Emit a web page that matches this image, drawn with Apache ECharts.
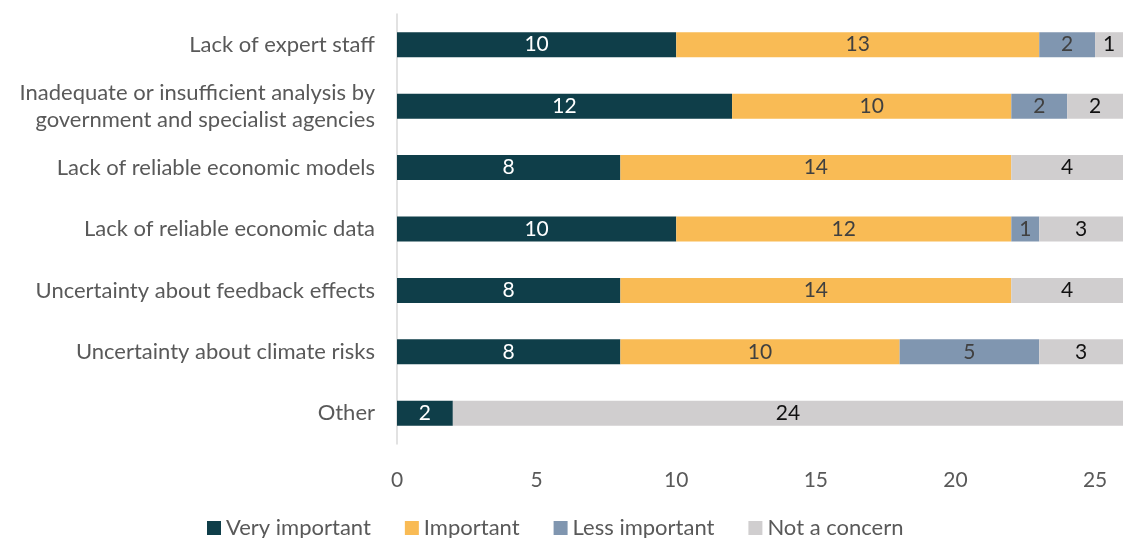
<!DOCTYPE html>
<html><head><meta charset="utf-8">
<script src="https://cdn.jsdelivr.net/npm/echarts@6/dist/echarts.min.js"></script>
<style>html,body{margin:0;padding:0;background:#fff;overflow:hidden}#c{width:1123px;height:538px}</style>
</head><body><div id="c"></div>
<script>
const categories = ["Lack of expert staff","Inadequate or insufficient analysis by\ngovernment and specialist agencies","Lack of reliable economic models","Lack of reliable economic data","Uncertainty about feedback effects","Uncertainty about climate risks","Other"];
const veryImportant = [10,12,8,10,8,8,2];
const important = [13,10,14,12,14,10,null];
const lessImportant = [2,2,null,1,null,5,null];
const notConcern = [1,2,4,3,4,3,24];
const seriesNames = ["Very important","Important","Less important","Not a concern"];
const colors = ["#0f3e49","#f9bb55","#8096b0","#d0cecf"];
const labelColors = ["#ffffff","#404040","#404040","#111111"];
const font = "Lato, 'Open Sans', sans-serif";
const datas = [veryImportant, important, lessImportant, notConcern];
const chart = echarts.init(document.getElementById('c'));
chart.setOption({
  animation:false,
  textStyle:{fontFamily:font},
  grid:{left:397,right:-2,top:14,bottom:94,containLabel:false},
  legend:{bottom:-6,left:202,itemWidth:14,itemHeight:14,itemGap:34,icon:'rect',
    textStyle:{fontSize:22,color:'#595959',fontFamily:font},data:seriesNames},
  xAxis:{type:'value',min:0,max:26,interval:5,splitLine:{show:false},
    axisLine:{show:false},axisTick:{show:false},
    axisLabel:{fontSize:21,color:'#595959',margin:26,showMaxLabel:false,fontFamily:font}},
  yAxis:{type:'category',inverse:true,data:categories,
    axisLine:{show:true,lineStyle:{color:'#d9d9d9',width:1.5}},axisTick:{show:false},
    axisLabel:{fontSize:22,color:'#595959',margin:22,lineHeight:27,align:'right',fontFamily:font}},
  series: datas.map((d,i)=>({
    name:seriesNames[i],type:'bar',stack:'s',data:d,barWidth:25,
    itemStyle:{color:colors[i]},
    label:{show:true,position:'inside',fontSize:21,color:labelColors[i],fontFamily:font}
  }))
});
</script></body></html>
